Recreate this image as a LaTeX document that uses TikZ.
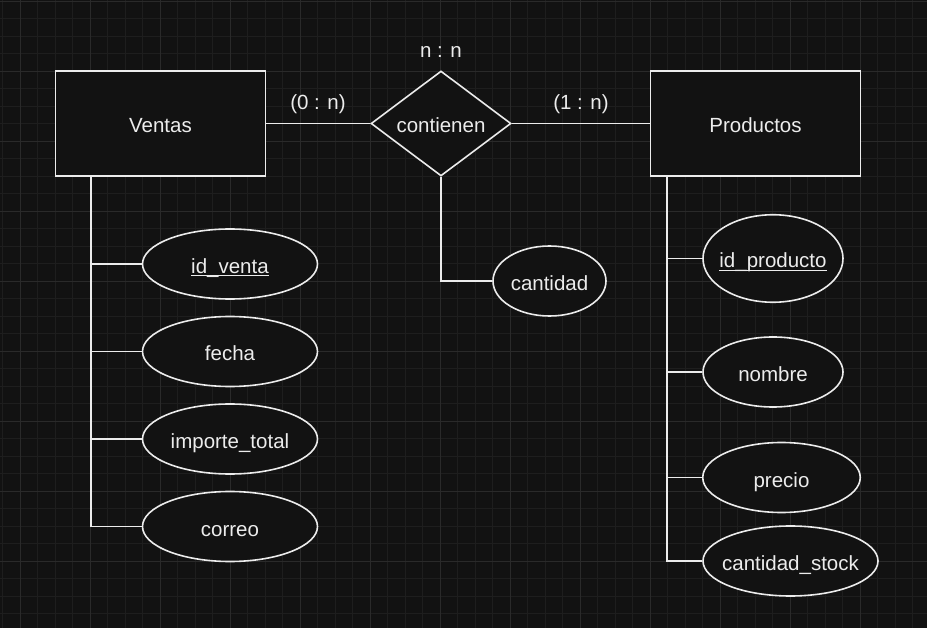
\documentclass[tikz,border=0pt]{standalone}
\usepackage{fontspec}
\setmainfont{Liberation Sans}
\usepackage{tikz}
\usetikzlibrary{shapes.geometric,calc}

\definecolor{bgdark}{RGB}{18,18,18}
\definecolor{gridminor}{RGB}{30,30,30}
\definecolor{gridmajor}{RGB}{42,42,42}
\definecolor{inkwhite}{RGB}{236,236,236}

% underlined key attribute
\newcommand{\pkey}[1]{\setbox0\hbox{#1}\rlap{\rule[-3pt]{\wd0}{1.4pt}}\box0}

\begin{document}
\begin{tikzpicture}[
		x=1pt,y=-1pt,
		every node/.style={font=\fontsize{20.5}{24}\selectfont, text=inkwhite,
			text height=19pt, text depth=0pt},
		entity/.style={draw=inkwhite, line width=1.6pt, fill=bgdark,
			minimum width=210pt, minimum height=105pt},
		relation/.style={diamond, draw=inkwhite, line width=1.6pt, fill=bgdark,
			aspect=1.333, inner xsep=-20pt, inner ysep=0pt,
			minimum width=140pt, minimum height=105pt},
		attr/.style={ellipse, draw=inkwhite, line width=1.6pt, fill=bgdark,
			inner xsep=-40pt, inner ysep=0pt, minimum height=70pt},
		link/.style={draw=inkwhite, line width=1.6pt}
		]
		
		% =========================
		% Background and grid
		% =========================
		\useasboundingbox (0,0) rectangle (927,628);
		\fill[bgdark] (0,0) rectangle (927,628);
		\foreach \gx in {2.5,20,...,927}
			\draw[gridminor, line width=0.8pt] (\gx,0) -- (\gx,628);
		\foreach \gy in {1,18.5,...,628}
			\draw[gridminor, line width=0.8pt] (0,\gy) -- (927,\gy);
		\foreach \gx in {20,90,...,927}
			\draw[gridmajor, line width=0.8pt] (\gx,0) -- (\gx,628);
		\foreach \gy in {1,71,...,628}
			\draw[gridmajor, line width=0.8pt] (0,\gy) -- (927,\gy);
		
		% =========================
		% Entities and relation
		% =========================
		\node[entity] (ventas) at (160.5,123.5) {Ventas};
		\node[entity] (productos) at (755.5,123.5) {Productos};
		\node[relation] (contienen) at (441,123.5) {contienen};
		
		\node (card_nn) at (441,48) {n : n};
		\node (card_vc) at (318,100) {(0 : n)};
		\node (card_cp) at (581,100) {(1 : n)};
		
		% relation attribute
		\node[attr, minimum width=113pt] (cantidad) at (549.5,281) {cantidad};
		
		% =========================
		% Ventas attributes
		% =========================
		\node[attr, minimum width=175pt] (id_venta) at (230,264) {\pkey{id\_venta}};
		\node[attr, minimum width=175pt] (fecha) at (230,351.5) {fecha};
		\node[attr, minimum width=175pt] (importe_total) at (230,439) {importe\_total};
		\node[attr, minimum width=175pt] (correo) at (230,526.5) {correo};
		
		% =========================
		% Productos attributes
		% =========================
		\node[attr, minimum width=140pt, minimum height=87.5pt] (id_producto) at (773,258.5) {\pkey{id\_producto}};
		\node[attr, minimum width=140pt] (nombre) at (773,372) {nombre};
		\node[attr, minimum width=157.5pt] (precio) at (781.5,477.5) {precio};
		\node[attr, minimum width=175pt] (cantidad_stock) at (790.5,561) {cantidad\_stock};
		
		% =========================
		% Connectors
		% =========================
		\draw[link] (ventas.east) -- (contienen.west);
		\draw[link] (contienen.east) -- (productos.west);
		\draw[link] (contienen.south) |- (cantidad.west);
		
		\coordinate (vtrunk) at ($(ventas.south west)+(36,0)$);
		\coordinate (ptrunk) at ($(productos.south west)+(17.5,0)$);
		\foreach \a in {id_venta,fecha,importe_total,correo}
			\draw[link] (vtrunk) |- (\a.west);
		\foreach \a in {id_producto,nombre,precio,cantidad_stock}
			\draw[link] (ptrunk) |- (\a.west);
		
	\end{tikzpicture}
\end{document}
